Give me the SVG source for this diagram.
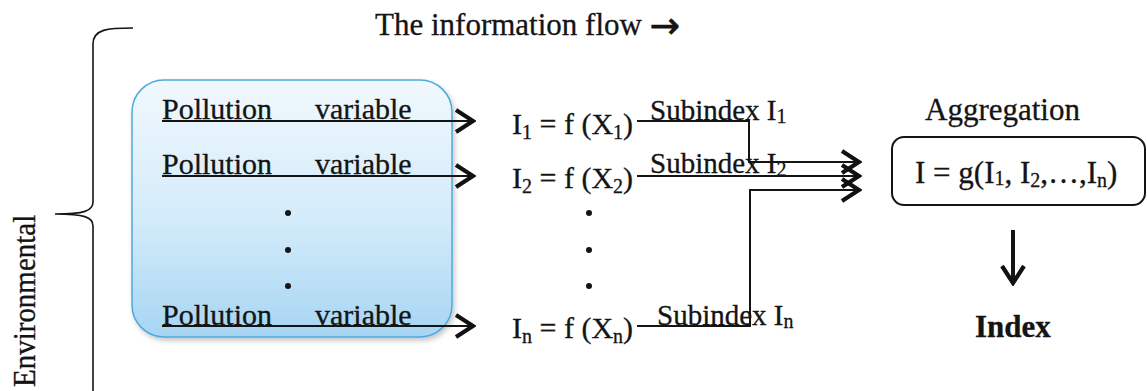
<svg xmlns="http://www.w3.org/2000/svg" width="1147" height="391" viewBox="0 0 1147 391">
  <defs>
    <linearGradient id="blueFill" x1="0" y1="0" x2="0" y2="1">
      <stop offset="0" stop-color="#f1f8fd"/>
      <stop offset="0.55" stop-color="#d3ebfa"/>
      <stop offset="1" stop-color="#a6d5f3"/>
    </linearGradient>
    <filter id="shadow" x="-10%" y="-10%" width="125%" height="125%">
      <feDropShadow dx="2" dy="3" stdDeviation="2.5" flood-color="#000" flood-opacity="0.22"/>
    </filter>
    <marker id="chev" viewBox="0 0 22 26" markerWidth="22" markerHeight="26" refX="19" refY="13" orient="auto" markerUnits="userSpaceOnUse">
      <path d="M2,2 L19,13 L2,24" fill="none" stroke="#111" stroke-width="4.2" stroke-linejoin="miter"/>
    </marker>
    <style>
      .t { font-family: "Liberation Serif", "Times New Roman", serif; fill: #141414; stroke: #141414; stroke-width: 0.3; }
      .f31 { font-size: 31px; }
      .f30 { font-size: 30px; }
      .f29 { font-size: 29px; }
      .sub { font-size: 20px; }
      .ln { stroke: #141414; stroke-width: 2; fill: none; }
      .arr { stroke: #141414; stroke-width: 2; fill: none; marker-end: url(#chev); }
      .dot { fill: #141414; }
    </style>
  </defs>
  <rect width="1147" height="391" fill="#ffffff"/>

  <g id="title">
    <text class="t f31" x="375" y="35">The information flow <tspan font-family="'DejaVu Sans', sans-serif" font-size="36" dy="3" stroke-width="0.8">→</tspan></text>
  </g>

  <g id="brace">
    <path class="ln" style="stroke-width:1.6" d="M133,28 C108,28 93,29 93,44 L93,202 C93,211 84,214 55,214 C84,214 93,217 93,226 L93,391"/>
  </g>

  <g id="environmental">
    <text class="t f29" transform="translate(35,387) rotate(-90) scale(1,1.12)" x="0" y="0">Environmental</text>
  </g>

  <g id="pollution-box">
    <rect x="132" y="80" width="320" height="257" rx="32" ry="32" fill="url(#blueFill)" stroke="#4ea9dd" stroke-width="1.5" filter="url(#shadow)"/>
    <text class="t f30" x="162" y="119">Pollution</text>
    <text class="t f30" x="315" y="119">variable</text>
    <text class="t f30" x="162" y="174">Pollution</text>
    <text class="t f30" x="315" y="174">variable</text>
    <circle class="dot" cx="288" cy="213" r="3"/>
    <circle class="dot" cx="288" cy="250" r="3"/>
    <circle class="dot" cx="288" cy="286" r="3"/>
    <text class="t f30" x="162" y="325">Pollution</text>
    <text class="t f30" x="315" y="325">variable</text>
  </g>

  <g id="functions">
    <text class="t f30" x="512" y="134">I<tspan class="sub" dy="5">1</tspan><tspan dy="-5"> = f (X</tspan><tspan class="sub" dy="5">1</tspan><tspan dy="-5">)</tspan></text>
    <text class="t f30" x="512" y="188">I<tspan class="sub" dy="5">2</tspan><tspan dy="-5"> = f (X</tspan><tspan class="sub" dy="5">2</tspan><tspan dy="-5">)</tspan></text>
    <circle class="dot" cx="589" cy="213" r="3"/>
    <circle class="dot" cx="589" cy="250" r="3"/>
    <circle class="dot" cx="589" cy="286" r="3"/>
    <text class="t f30" x="512" y="338">I<tspan class="sub" dy="5">n</tspan><tspan dy="-5"> = f (X</tspan><tspan class="sub" dy="5">n</tspan><tspan dy="-5">)</tspan></text>
  </g>

  <g id="subindex-labels">
    <text class="t f29" x="650" y="120">Subindex I<tspan class="sub" dy="3">1</tspan></text>
    <text class="t f29" x="650" y="173">Subindex I<tspan class="sub" dy="3">2</tspan></text>
    <text class="t f29" x="657" y="325">Subindex I<tspan class="sub" dy="3">n</tspan></text>
  </g>

  <g id="aggregation">
    <text class="t f31" x="925" y="120">Aggregation</text>
    <rect x="892" y="137" width="253" height="68" rx="12" ry="12" fill="#ffffff" stroke="#141414" stroke-width="2"/>
    <text class="t f31" x="915" y="183">I = g(I<tspan class="sub" dy="2">1</tspan><tspan dy="-2">, I</tspan><tspan class="sub" dy="4">2</tspan><tspan dy="-4">,…,I</tspan><tspan class="sub" dy="4">n</tspan><tspan dy="-4">)</tspan></text>
  </g>

  <g id="index">
    <text class="t f31" x="975" y="337" font-weight="bold">Index</text>
  </g>

  <g id="connectors">
    <line class="arr" x1="162" y1="121" x2="473" y2="121"/>
    <line class="arr" x1="162" y1="176" x2="473" y2="176"/>
    <line class="arr" x1="162" y1="326" x2="473" y2="326"/>
    <polyline class="arr" points="637,121 749,121 749,162 859,162"/>
    <line class="arr" x1="637" y1="176" x2="859" y2="176"/>
    <polyline class="arr" points="637,326 750,326 750,190 859,190"/>
    <line class="arr" style="stroke-width:4" x1="1013" y1="230" x2="1013" y2="283"/>
  </g>
</svg>
